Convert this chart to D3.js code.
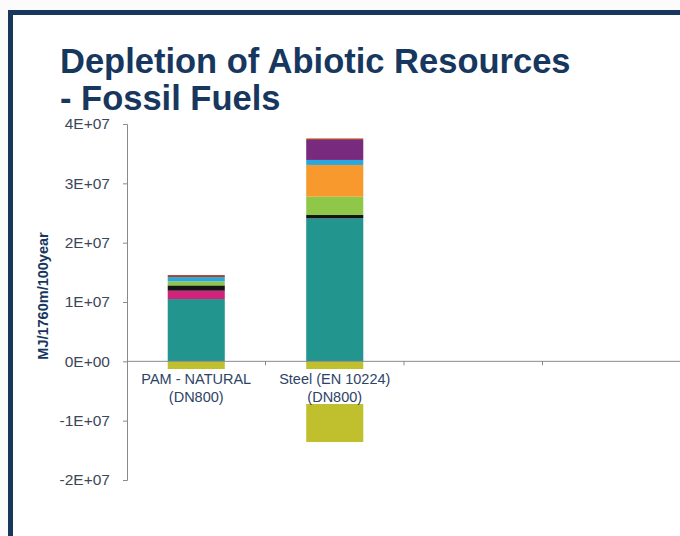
<!DOCTYPE html>
<html>
<head>
<meta charset="utf-8">
<script src="https://cdn.jsdelivr.net/npm/d3@7"></script>
<style>
  html, body { margin: 0; padding: 0; background: #fbfbfb; }
  svg { display: block; }
  text { font-family: "Liberation Sans", Arial, sans-serif; }
</style>
</head>
<body>
<svg id="chart" width="680" height="536"></svg>
<script>
// Category labels (two lines each); the last two slots on the axis are empty
const categories = [
  ["PAM - NATURAL", "(DN800)"],
  ["Steel (EN 10224)", "(DN800)"],
  [],
  []
];

// Stacked contributions per category (MJ/1760m/100year)
const seriesKeys = ["teal", "magenta", "black", "green", "orange", "lightBlue", "purple", "brown", "credit"];
const teal      = [10500000, 24100000, 0, 0];
const magenta   = [1400000, 0, 0, 0];
const black     = [900000, 560000, 0, 0];
const green     = [680000, 3090000, 0, 0];
const orange    = [0, 5350000, 0, 0];
const lightBlue = [720000, 840000, 0, 0];
const purple    = [0, 3370000, 0, 0];
const brown     = [340000, 250000, 0, 0];
const credit    = [-1600000, -13600000, 0, 0];

const yTicks = [-20000000, -10000000, 0, 10000000, 20000000, 30000000, 40000000];

const colors = {
  teal: "#22958f",
  magenta: "#d2237c",
  black: "#141414",
  green: "#8fc848",
  orange: "#f7992c",
  lightBlue: "#2aa7dc",
  purple: "#782a7e",
  brown: "#a9432b",
  credit: "#c0c02e"
};

const seriesValues = { teal, magenta, black, green, orange, lightBlue, purple, brown, credit };
const rows = categories.map((c, i) => {
  const r = { idx: i };
  seriesKeys.forEach(k => r[k] = seriesValues[k][i]);
  return r;
});

const svg = d3.select("#chart");
const W = 680, H = 536;

// Panel with navy frame
svg.append("rect").attr("x", 0).attr("y", 0).attr("width", W).attr("height", H).attr("fill", "#fbfbfb");
svg.append("rect").attr("x", 10).attr("y", 12).attr("width", W).attr("height", H)
  .attr("fill", "#ffffff");
svg.append("path")
  .attr("d", `M10.5,${H} L10.5,12.5 L${W},12.5`)
  .attr("fill", "none").attr("stroke", "#17375e").attr("stroke-width", 5);

// Title, two separate lines
const titleLines = ["Depletion of Abiotic Resources", "- Fossil Fuels"];
svg.append("g").selectAll("text")
  .data(titleLines)
  .join("text")
  .attr("x", 60)
  .attr("y", (d, i) => 73 + i * 37)
  .attr("fill", "#17375e")
  .attr("font-weight", "bold")
  .attr("font-size", 34.5)
  .text(d => d);

// Scales
const x0 = 127, x1 = 681;
const x = d3.scaleBand()
  .domain(d3.range(categories.length))
  .range([x0, x1])
  .paddingInner(0.588)
  .paddingOuter(0.294);

const y = d3.scaleLinear().domain([-20000000, 40000000]).range([480, 124]);

// Stacked bars (negative credit stacks below zero)
const stack = d3.stack().keys(seriesKeys).offset(d3.stackOffsetDiverging);
const layers = stack(rows);

svg.append("g").selectAll("g")
  .data(layers)
  .join("g")
  .attr("fill", d => colors[d.key])
  .selectAll("rect")
  .data(d => d)
  .join("rect")
  .attr("x", d => x(d.data.idx))
  .attr("width", x.bandwidth())
  .attr("y", d => y(Math.max(d[0], d[1])))
  .attr("height", d => Math.abs(y(d[0]) - y(d[1])));

// Y axis
const yFmt = v => v === 0 ? "0E+00" : (v < 0 ? "-" : "") + (Math.abs(v) / 10000000) + "E+07";
const yAxis = svg.append("g")
  .attr("transform", `translate(${x0},0)`)
  .call(d3.axisLeft(y).tickValues(yTicks).tickFormat(yFmt).tickSize(4).tickPadding(13).tickSizeOuter(4));
yAxis.select(".domain").attr("stroke", "#8a8a8a");
yAxis.selectAll(".tick line").attr("stroke", "#8a8a8a");
yAxis.selectAll(".tick text")
  .attr("fill", "#3c4758")
  .attr("font-size", 15.5)
  .attr("font-family", "Liberation Sans, Arial, sans-serif");

// X axis line with category boundary ticks
const xAxisG = svg.append("g");
xAxisG.append("line")
  .attr("x1", x0).attr("x2", x1)
  .attr("y1", y(0)).attr("y2", y(0))
  .attr("stroke", "#8a8a8a");
const boundaries = d3.range(1, categories.length).map(i => x(i) - x.step() * x.paddingInner() / 2);
xAxisG.selectAll("line.b")
  .data(boundaries)
  .join("line")
  .attr("class", "b")
  .attr("x1", d => d).attr("x2", d => d)
  .attr("y1", y(0)).attr("y2", y(0) + 4)
  .attr("stroke", "#8a8a8a");

// Category labels on white boxes
const labelG = svg.append("g");
categories.forEach((lines, i) => {
  if (!lines.length) return;
  const cx = x(i) + x.bandwidth() / 2;
  const g = labelG.append("g");
  const t = g.append("text")
    .attr("text-anchor", "middle")
    .attr("fill", "#2e4466")
    .attr("font-size", 14.5);
  lines.forEach((s, j) => {
    t.append("tspan").attr("x", cx).attr("y", 384 + j * 18).text(s);
  });
  const bb = t.node().getBBox();
  g.insert("rect", "text")
    .attr("x", bb.x - 3).attr("y", 369)
    .attr("width", bb.width + 6).attr("height", 35)
    .attr("fill", "#ffffff");
});

// Y axis title
svg.append("text")
  .attr("transform", `translate(48,296) rotate(-90)`)
  .attr("text-anchor", "middle")
  .attr("fill", "#17375e")
  .attr("font-weight", "bold")
  .attr("font-size", 14.5)
  .text("MJ/1760m/100year");
</script>
</body>
</html>
